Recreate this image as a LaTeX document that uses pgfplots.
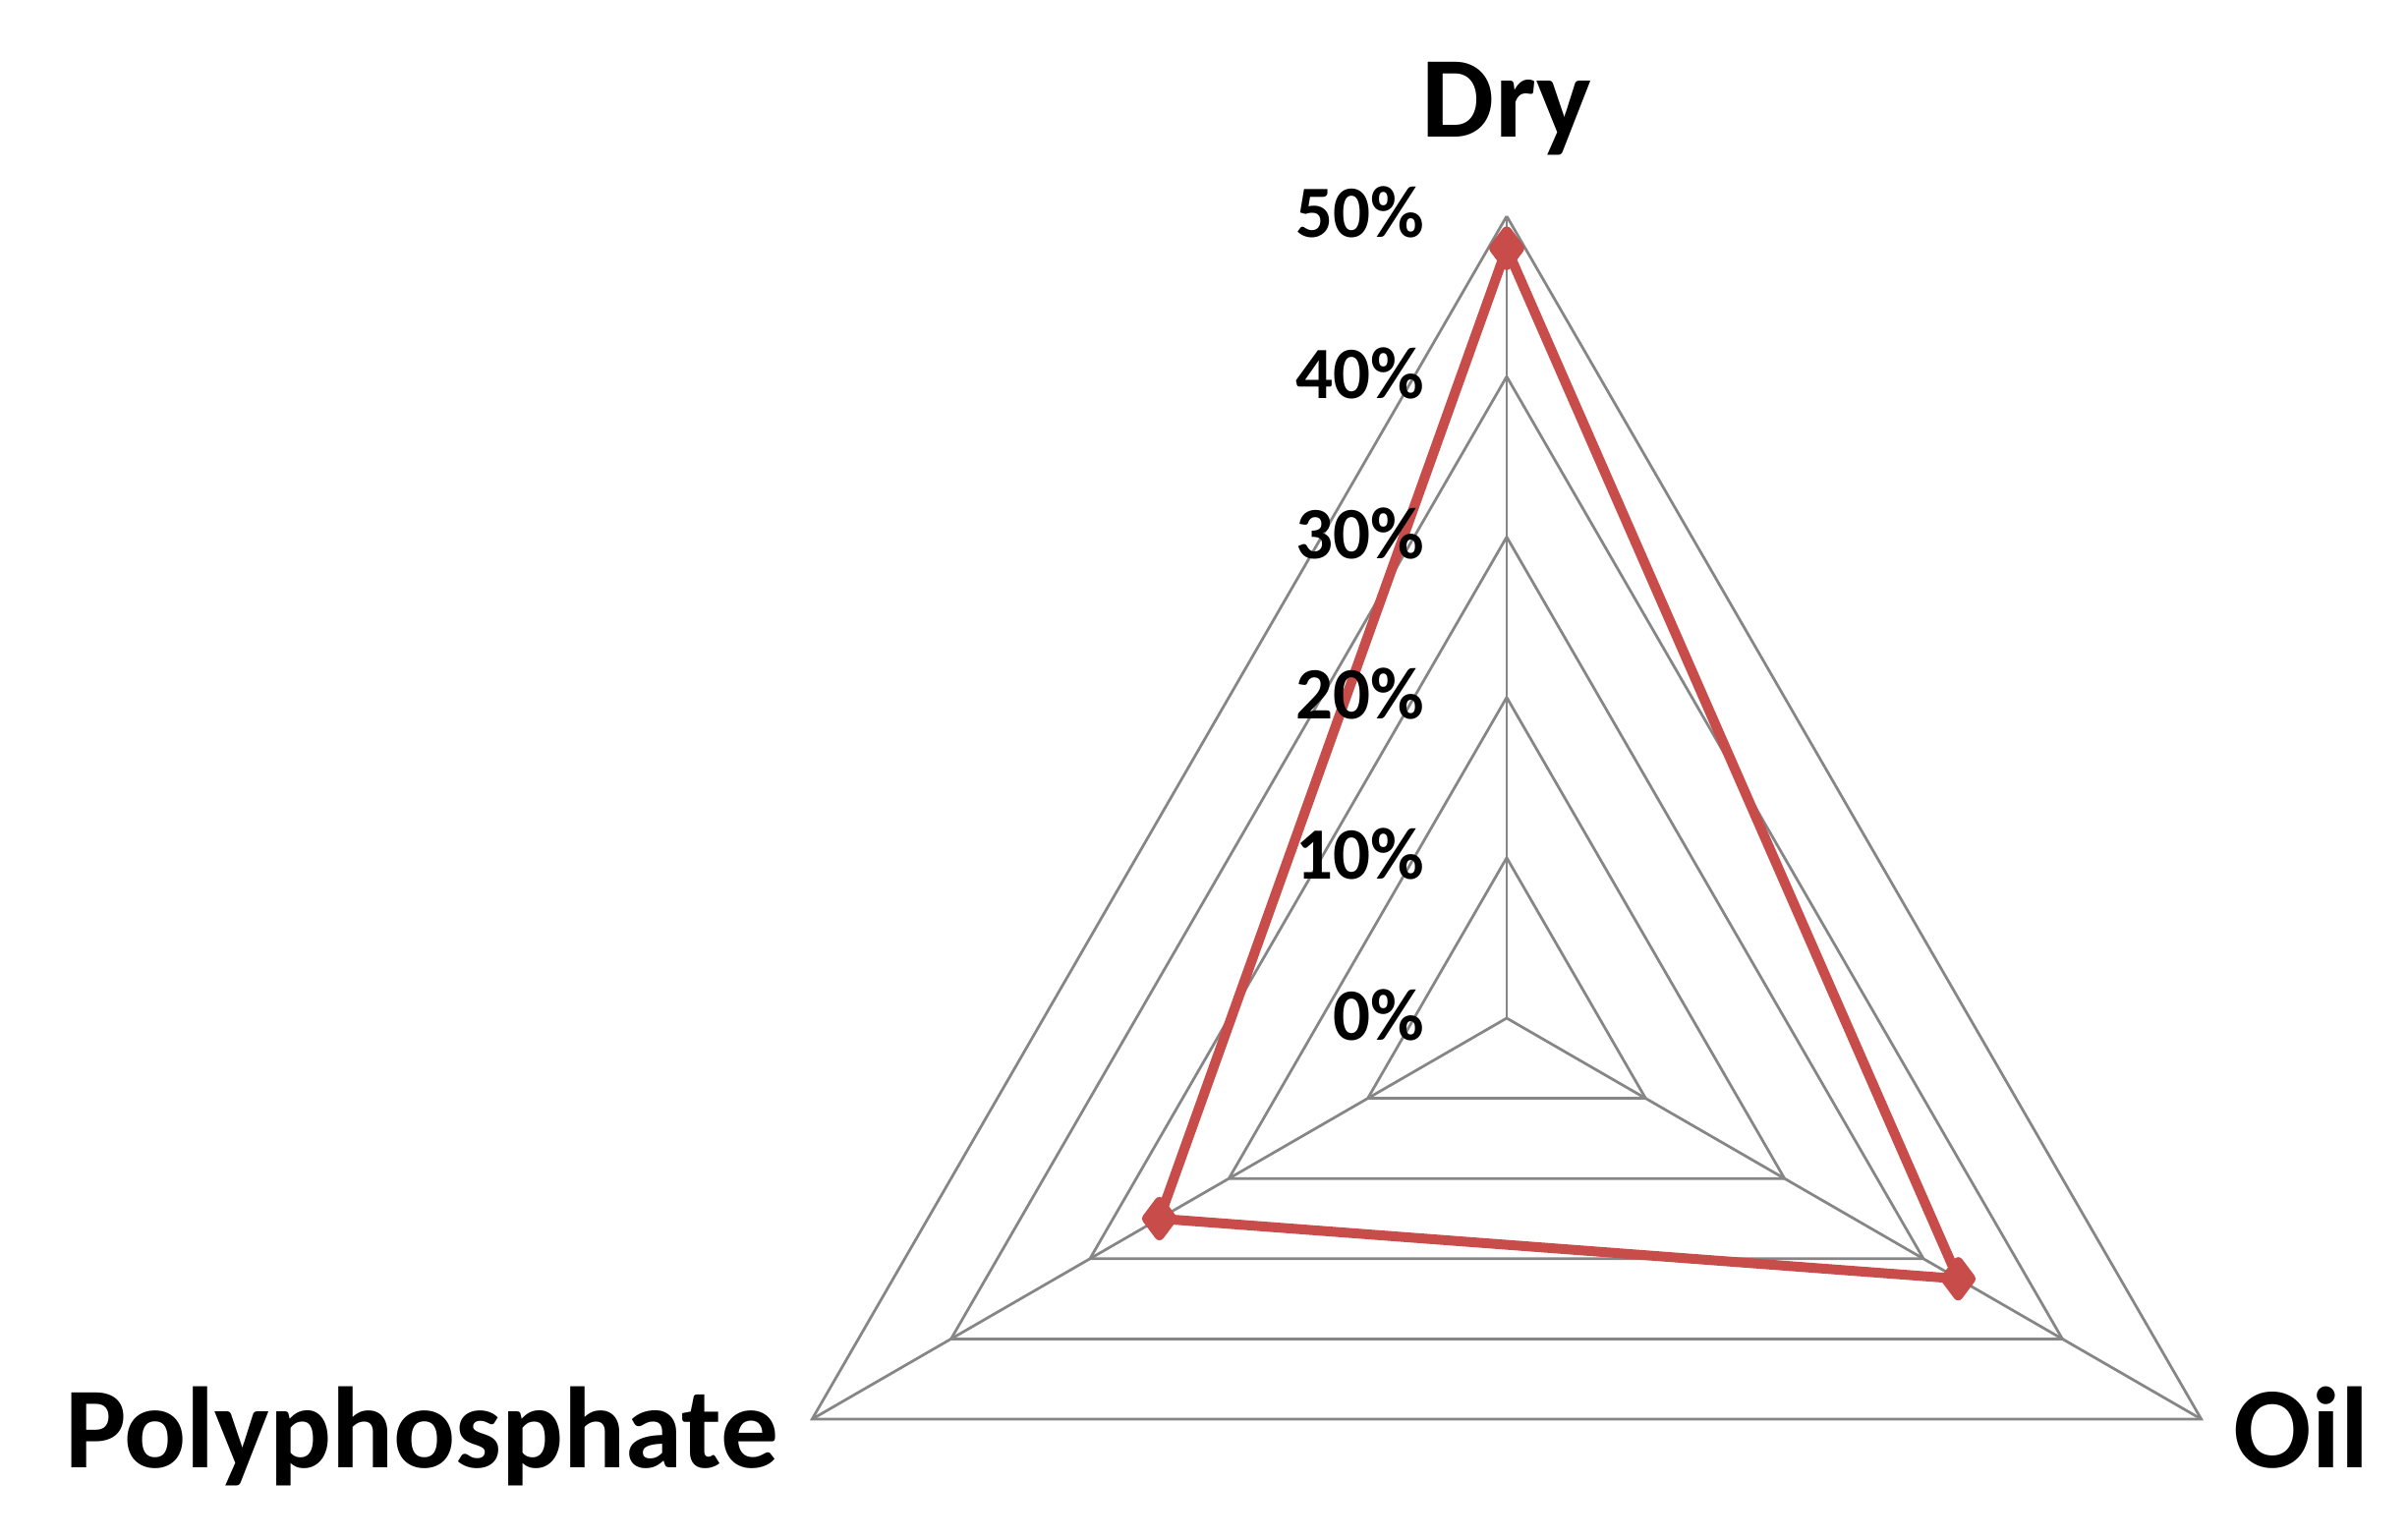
\documentclass[border=0pt]{standalone}
\usepackage{fontspec}
\setmainfont{Carlito}
\usepackage{pgfplots}
\pgfplotsset{compat=1.18}
\usepgfplotslibrary{polar}
\definecolor{gridgray}{RGB}{134,134,134}
\definecolor{seriesred}{RGB}{200,76,74}

\begin{document}
\begin{tikzpicture}[
  gridline/.style={gridgray, line width=0.55pt},
  ticklab/.style={anchor=base east, inner sep=0pt, font=\fontsize{15}{17}\selectfont\bfseries},
  catlab/.style={font=\fontsize{23.5}{28}\selectfont\bfseries},
]
\begin{axis}[
  x=3.264pt, y=3.264pt,
  xmin=-93.93, xmax=56.19,
  ymin=-32.48, ymax=63.48,
  hide axis, clip=false,
]
\coordinate (sw) at (rel axis cs:0,0);
\coordinate (ne) at (rel axis cs:1,1);

% triangular grid, 10% .. 50%
\addplot[gridline, data cs=polar, mark=none] coordinates {(90,10) (-30,10) (210,10) (90,10)};
\addplot[gridline, data cs=polar, mark=none] coordinates {(90,20) (-30,20) (210,20) (90,20)};
\addplot[gridline, data cs=polar, mark=none] coordinates {(90,30) (-30,30) (210,30) (90,30)};
\addplot[gridline, data cs=polar, mark=none] coordinates {(90,40) (-30,40) (210,40) (90,40)};
\addplot[gridline, data cs=polar, mark=none] coordinates {(90,50) (-30,50) (210,50) (90,50)};
% spokes
\addplot[gridline, data cs=polar, mark=none] coordinates {(90,0) (90,50)};
\addplot[gridline, data cs=polar, mark=none] coordinates {(-30,0) (-30,50)};
\addplot[gridline, data cs=polar, mark=none] coordinates {(210,0) (210,50)};

% series
\addplot[seriesred, line width=2pt, line join=round, data cs=polar,
  mark=diamond*, mark size=3.4pt, mark options={solid, fill=seriesred}]
  coordinates {(90,48) (-30,32.5) (210,25) (90,48)};

% radial tick labels
\node[ticklab] at (axis cs:-5.09,-1.35) {0\%};
\node[ticklab] at (axis cs:-5.09,8.65) {10\%};
\node[ticklab] at (axis cs:-5.09,18.65) {20\%};
\node[ticklab] at (axis cs:-5.09,28.65) {30\%};
\node[ticklab] at (axis cs:-5.09,38.65) {40\%};
\node[ticklab] at (axis cs:-5.09,48.65) {50\%};

% category labels
\node[catlab, anchor=base] at (axis cs:0,54.9) {Dry};
\node[catlab, anchor=base east, inner sep=0pt] at (axis cs:-45.34,-28.06) {Polyphosphate};
\node[catlab, anchor=base west, inner sep=0pt] at (axis cs:45.28,-28.06) {Oil};
\end{axis}
\pgfresetboundingbox
\path[use as bounding box] (sw) rectangle (ne);
\end{tikzpicture}
\end{document}
